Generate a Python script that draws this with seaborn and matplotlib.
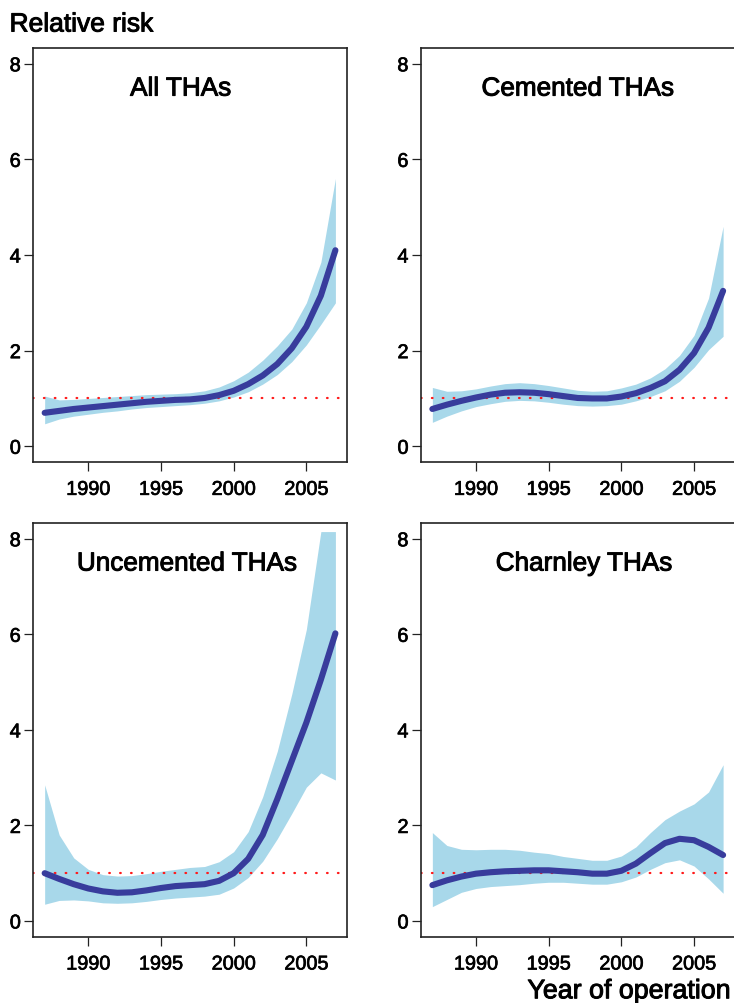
import numpy as np
import pandas as pd
import matplotlib
matplotlib.use("Agg")
import matplotlib.pyplot as plt
import matplotlib.patheffects as pe
import seaborn as sns

# values, one point per operation year
years = list(range(1987, 2008))

all_rr = [0.70, 0.74, 0.78, 0.81, 0.84, 0.87, 0.90, 0.93, 0.95, 0.97, 0.98,
          1.01, 1.07, 1.16, 1.30, 1.48, 1.72, 2.05, 2.50, 3.15, 4.10]
all_hi = [1.05, 0.97, 0.98, 1.00, 1.02, 1.04, 1.06, 1.08, 1.09, 1.10, 1.12,
          1.16, 1.24, 1.37, 1.55, 1.80, 2.10, 2.45, 3.00, 3.85, 5.60]
all_lo = [0.47, 0.57, 0.63, 0.67, 0.71, 0.74, 0.78, 0.81, 0.83, 0.85, 0.87,
          0.90, 0.95, 1.03, 1.14, 1.30, 1.50, 1.77, 2.12, 2.55, 3.00]

cem_rr = [0.78, 0.87, 0.95, 1.02, 1.08, 1.12, 1.13, 1.12, 1.09, 1.05, 1.01,
          1.00, 1.00, 1.04, 1.11, 1.22, 1.36, 1.60, 1.95, 2.48, 3.25]
cem_hi = [1.23, 1.15, 1.16, 1.20, 1.26, 1.31, 1.33, 1.31, 1.27, 1.22, 1.17,
          1.15, 1.16, 1.22, 1.30, 1.43, 1.62, 1.90, 2.32, 3.10, 4.60]
cem_lo = [0.50, 0.63, 0.74, 0.83, 0.89, 0.94, 0.96, 0.95, 0.92, 0.88, 0.85,
          0.84, 0.85, 0.88, 0.95, 1.04, 1.16, 1.36, 1.65, 2.02, 2.30]

unc_rr = [1.00, 0.88, 0.77, 0.68, 0.62, 0.59, 0.60, 0.64, 0.69, 0.73, 0.75,
          0.77, 0.84, 1.00, 1.30, 1.80, 2.55, 3.35, 4.15, 5.05, 6.02]
unc_hi = [2.85, 1.80, 1.32, 1.08, 0.97, 0.94, 0.95, 0.99, 1.04, 1.08, 1.12,
          1.14, 1.24, 1.45, 1.87, 2.60, 3.55, 4.75, 6.10, 8.15, 8.15]
unc_lo = [0.35, 0.43, 0.44, 0.42, 0.38, 0.37, 0.38, 0.41, 0.45, 0.48, 0.50,
          0.52, 0.56, 0.69, 0.91, 1.25, 1.72, 2.25, 2.80, 3.10, 2.95]

cha_rr = [0.75, 0.85, 0.93, 0.99, 1.02, 1.04, 1.05, 1.06, 1.06, 1.04, 1.02,
          0.99, 0.99, 1.05, 1.20, 1.42, 1.63, 1.72, 1.69, 1.55, 1.38]
cha_hi = [1.85, 1.58, 1.50, 1.49, 1.50, 1.50, 1.48, 1.44, 1.41, 1.35, 1.31,
          1.27, 1.27, 1.36, 1.55, 1.85, 2.12, 2.30, 2.45, 2.70, 3.27]
cha_lo = [0.30, 0.45, 0.60, 0.68, 0.72, 0.74, 0.76, 0.79, 0.81, 0.81, 0.79,
          0.77, 0.77, 0.82, 0.92, 1.08, 1.22, 1.28, 1.15, 0.88, 0.58]

titles = ["All THAs", "Cemented THAs", "Uncemented THAs", "Charnley THAs"]
y_ticks = [0, 2, 4, 6, 8]
x_ticks = [1990, 1995, 2000, 2005]

panels = [
    (all_rr, all_lo, all_hi),
    (cem_rr, cem_lo, cem_hi),
    (unc_rr, unc_lo, unc_hi),
    (cha_rr, cha_lo, cha_hi),
]

sns.set_style("ticks")
plt.rcParams["font.family"] = ["Liberation Sans", "DejaVu Sans"]
plt.rcParams["text.color"] = "black"

line_col = "#383c9c"
band_col = "#a8d8ea"
# slightly heavier text, the original uses a medium-weight Helvetica
heavy = [pe.withStroke(linewidth=0.7, foreground="black")]
heavy_ticks = [pe.withStroke(linewidth=0.5, foreground="black")]

fig = plt.figure(figsize=(7.34, 10.04), dpi=100)
boxes = [
    (0.0450, 0.5388, 0.4278, 0.4124),
    (0.5732, 0.5388, 0.4278, 0.4124),
    (0.0450, 0.0660, 0.4278, 0.4121),
    (0.5732, 0.0660, 0.4278, 0.4121),
]
title_x = [0.47, 0.50, 0.49, 0.52]

for i, (rr, lo, hi) in enumerate(panels):
    ax = fig.add_axes(boxes[i])
    df = pd.DataFrame({"year": years, "rr": rr, "lo": lo, "hi": hi})
    ax.fill_between(df["year"], df["lo"], df["hi"], color=band_col, lw=0)
    ax.axhline(1, color="#ff1a1a", lw=1.6, ls=(0, (0.3, 4.6)),
               dash_capstyle="round")
    sns.lineplot(data=df, x="year", y="rr", ax=ax, color=line_col, lw=4.4,
                 solid_capstyle="round")
    ax.set_xlim(1986.2, 2007.8)
    ax.set_ylim(-0.33, 8.33)
    ax.set_xticks(x_ticks)
    ax.set_yticks(y_ticks)
    ax.set_xlabel("")
    ax.set_ylabel("")
    ax.tick_params(axis="both", direction="out", length=6.8, width=0.9,
                   color="#222222", labelsize=14.3, labelcolor="black")
    ax.tick_params(axis="x", pad=6)
    ax.tick_params(axis="y", pad=2)
    for lbl in ax.get_xticklabels() + ax.get_yticklabels():
        lbl.set_path_effects(heavy_ticks)
    for sp in ax.spines.values():
        sp.set_visible(True)
        sp.set_color("#222222")
        sp.set_linewidth(1.2)
    ax.text(title_x[i], 0.885, titles[i], transform=ax.transAxes,
            ha="center", va="baseline", fontsize=18.8, path_effects=heavy)

fig.text(0.013, 0.9676, "Relative risk", ha="left", va="baseline",
         fontsize=19, path_effects=heavy)
fig.text(0.9946, 0.0047, "Year of operation", ha="right", va="baseline",
         fontsize=19.3, path_effects=heavy)

fig.savefig("out.png", dpi=100)
